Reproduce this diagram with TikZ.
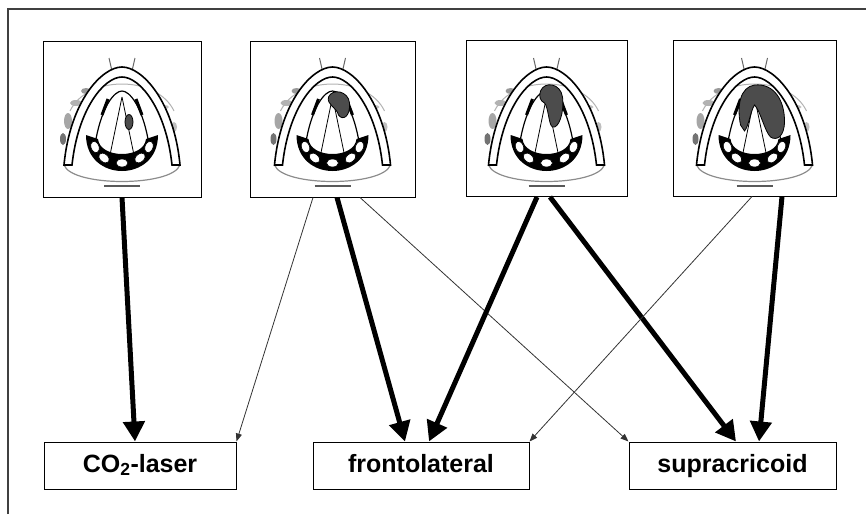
\documentclass[tikz,border=0pt]{standalone}
\usepackage{fontspec}
\setmainfont{Liberation Sans}
\usetikzlibrary{arrows.meta}
\tikzset{
  imgbox/.style={draw, line width=1pt, minimum height=156pt, inner sep=0pt},
  txtbox/.style={draw, line width=1pt, minimum height=47pt, inner sep=0pt,
    text height=18pt, text depth=5pt,
    font=\fontsize{25}{30}\selectfont\bfseries},
  bigarrow/.style={line width=5pt, -{Triangle[length=20pt,width=21pt]}},
  smallarrow/.style={line width=0.8pt, black!80, -{Triangle[length=8pt,width=6pt]}},
  tumour/.style={fill=black!70, draw=black, line width=0.8pt},
  larynx/.pic={
    % faint scribbles
    \fill[black!35] (26,80) ellipse (4 and 8);
    \fill[black!55] (21,98) ellipse (3 and 6);
    \fill[black!30] (34,62) ellipse (6 and 3);
    \fill[black!40] (44,50) ellipse (5 and 3);
    \fill[black!25] (122,66) ellipse (5 and 2);
    \fill[black!25] (132,86) ellipse (3 and 5);
    \draw[black!60, line width=1pt] (70,30) -- (67,17) (90,30) -- (93,17);
    \draw[black!30, line width=1pt] (28,70) .. controls (45,34) and (115,34) .. (132,70);
    % lower arc and smudge
    \draw[black!45, line width=1.2pt] (22,124) .. controls (30,146) and (130,146) .. (138,124);
    \draw[black!65, line width=2.5pt] (62,145) -- (98,145);
    % outer arch band
    \draw[line width=1.6pt, fill=white] (22,124) .. controls (28,60) and (60,26) .. (80,26)
      .. controls (100,26) and (132,60) .. (138,124) -- (130,124)
      .. controls (124,68) and (98,36) .. (80,36) .. controls (62,36) and (36,68) .. (30,124) -- cycle;
    % ventricular marks
    \draw[line width=3pt] (66,58) -- (60,74) (94,58) -- (100,74);
    % inner arch and folds
    \draw[line width=1.2pt] (54,98) .. controls (60,66) and (72,50) .. (80,50)
      .. controls (88,50) and (100,66) .. (106,98);
    \draw[line width=0.8pt] (80,56) -- (68,114) (80,56) -- (92,114);
    % crescent
    \fill (44,94) .. controls (44,142) and (116,142) .. (116,94) -- (104,98)
      .. controls (102,118) and (58,118) .. (56,98) -- cycle;
    \foreach \px/\py/\ang in {53/106/-70, 62/117/-40, 80/122/0, 98/117/40, 107/106/70}
      \draw[fill=white, line width=0.6pt, rotate around={\ang:(\px,\py)}] (\px,\py) ellipse (6 and 4);
  }
}
\begin{document}
\begin{tikzpicture}[x=1pt, y=-1pt]
\useasboundingbox (0,0) rectangle (866,514);
% frame
\draw[line width=2pt, black!75] (8,514) -- (8,9) -- (866,9);

% drawings
\begin{scope}[shift={(42,41)}]
  \pic {larynx};
  \fill[tumour] (87,81) ellipse (4 and 7.5);
\end{scope}
\begin{scope}[shift={(252.5,41)}]
  \pic {larynx};
  \fill[tumour] (76,56) .. controls (80,47) and (96,50) .. (97,62)
    .. controls (98,76) and (90,80) .. (86,74) .. controls (84,66) and (74,64) .. (76,56) -- cycle;
\end{scope}
\begin{scope}[shift={(466.5,41)}]
  \pic {larynx};
  \fill[tumour] (74,50) .. controls (78,40) and (94,42) .. (96,56)
    .. controls (98,72) and (92,88) .. (86,86) .. controls (82,84) and (82,66) .. (78,62)
    .. controls (74,60) and (72,56) .. (74,50) -- cycle;
\end{scope}
\begin{scope}[shift={(674.5,41)}]
  \pic {larynx};
  \fill[tumour] (66,84) .. controls (62,64) and (66,46) .. (80,44)
    .. controls (100,42) and (110,60) .. (110,80) .. controls (110,96) and (102,100) .. (96,96)
    .. controls (90,90) and (86,70) .. (80,64) .. controls (76,70) and (74,86) .. (70,90) -- cycle;
\end{scope}

% image boxes
\node[imgbox, minimum width=158pt] (b1) at (122,119) {};
\node[imgbox, minimum width=165pt] (b2) at (332.5,119) {};
\node[imgbox, minimum width=161pt] (b3) at (546.5,118.5) {};
\node[imgbox, minimum width=163pt] (b4) at (754.5,118) {};

% text boxes
\node[txtbox, minimum width=192pt] (co2) at (140,465.5) {CO\textsubscript{2}-laser};
\node[txtbox, minimum width=216pt] (fl) at (421,465.5) {frontolateral};
\node[txtbox, minimum width=207pt] (sc) at (732.5,465.5) {supracricoid};

% connectors
\draw[bigarrow] (b1.south) -- ([xshift=-5pt]co2.north);
\draw[smallarrow] ([xshift=-19.5pt]b2.south) -- (co2.north east);
\draw[bigarrow] ([xshift=4.5pt]b2.south) -- ([xshift=-16pt]fl.north);
\draw[smallarrow] ([xshift=27.5pt]b2.south) -- (sc.north west);
\draw[bigarrow] ([xshift=-9.5pt]b3.south) -- ([xshift=8pt]fl.north);
\draw[bigarrow] ([xshift=3.5pt]b3.south) -- ([xshift=3.5pt]sc.north);
\draw[smallarrow] ([xshift=-2.5pt]b4.south) -- (fl.north east);
\draw[bigarrow] ([xshift=27.5pt]b4.south) -- ([xshift=26.5pt]sc.north);
\end{tikzpicture}
\end{document}
